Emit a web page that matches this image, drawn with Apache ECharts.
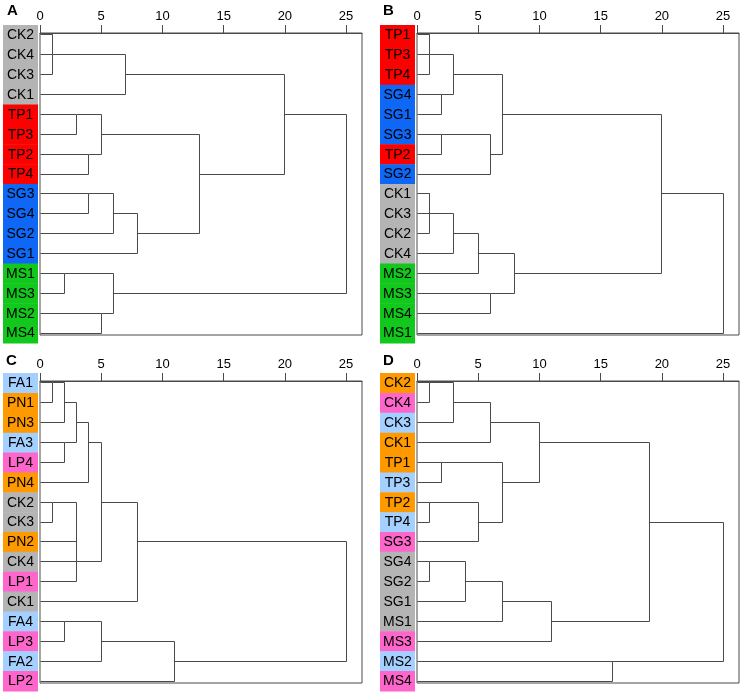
<!DOCTYPE html>
<html>
<head>
<meta charset="utf-8">
<script src="https://cdn.jsdelivr.net/npm/echarts@6/dist/echarts.min.js"></script>
<style>
html,body{margin:0;padding:0;background:#fff;}
#chart{width:743px;height:695px;}
</style>
</head>
<body>
<div id="chart"></div>
<script>
// ---------- data ----------
const tickValues = [0, 5, 10, 15, 20, 25];
const axisMax = 26.3;

const labelsA = ['CK2','CK4','CK3','CK1','TP1','TP3','TP2','TP4','SG3','SG4','SG2','SG1','MS1','MS3','MS2','MS4'];
const colorKeysA = ['gray','gray','gray','gray','red','red','red','red','blue','blue','blue','blue','green','green','green','green'];
// [child a, child b, rescaled distance]; leaves are 0..15, merged nodes numbered 16.. in order
const mergesA = [[0,1,1],[16,2,1],[17,3,7],[4,5,3],[6,7,4],[19,20,5],[8,9,4],[22,10,6],[23,11,8],[21,24,13],[18,25,20],[12,13,2],[14,15,5],[27,28,6],[26,29,25]];

const labelsB = ['TP1','TP3','TP4','SG4','SG1','SG3','TP2','SG2','CK1','CK3','CK2','CK4','MS2','MS3','MS4','MS1'];
const colorKeysB = ['red','red','red','blue','blue','blue','red','blue','gray','gray','gray','gray','green','green','green','green'];
const mergesB = [[0,1,1],[16,2,1],[3,4,2],[17,18,3],[5,6,2],[20,7,6],[19,21,7],[8,9,1],[23,10,1],[24,11,3],[25,12,5],[13,14,6],[26,27,8],[22,28,20],[29,15,25]];

const labelsC = ['FA1','PN1','PN3','FA3','LP4','PN4','CK2','CK3','PN2','CK4','LP1','CK1','FA4','LP3','FA2','LP2'];
const colorKeysC = ['lightblue','orange','orange','lightblue','pink','orange','gray','gray','orange','gray','pink','gray','lightblue','pink','lightblue','pink'];
const mergesC = [[0,1,1],[16,2,2],[3,4,2],[17,18,3],[19,5,4],[6,7,1],[21,8,3],[22,9,3],[23,10,3],[20,24,5],[25,11,8],[12,13,2],[27,14,5],[28,15,11],[26,29,25]];

const labelsD = ['CK2','CK4','CK3','CK1','TP1','TP3','TP2','TP4','SG3','SG4','SG2','SG1','MS1','MS3','MS2','MS4'];
const colorKeysD = ['orange','pink','lightblue','orange','orange','lightblue','orange','lightblue','pink','gray','gray','gray','gray','pink','lightblue','pink'];
const mergesD = [[0,1,1],[16,2,3],[17,3,6],[4,5,2],[6,7,1],[20,8,5],[19,21,7],[18,22,10],[9,10,1],[24,11,4],[25,12,7],[26,13,11],[23,27,19],[14,15,16],[28,29,25]];

const panelLetters = ['A','B','C','D'];

// ---------- styling ----------
const palette = {
  gray:'#b4b4b4', red:'#ff0000', blue:'#0f68f5', green:'#12c81c',
  orange:'#ff9900', pink:'#ff66cc', lightblue:'#a3d0ff'
};
const lineColor = '#4a4a4a';
const FONT = '"Liberation Sans", Arial, Helvetica, sans-serif';

const panels = [
  {labels:labelsA, keys:colorKeysA, merges:mergesA, left:40,  top:33,  letterX:7,   letterY:3},
  {labels:labelsB, keys:colorKeysB, merges:mergesB, left:417, top:33,  letterX:383, letterY:3},
  {labels:labelsC, keys:colorKeysC, merges:mergesC, left:40,  top:381, letterX:6,   letterY:353},
  {labels:labelsD, keys:colorKeysD, merges:mergesD, left:417, top:381, letterX:383, letterY:353}
];
const gridW = 322, gridH = 302;

// Build dendrogram segments (SPSS style: node row = floor of mean of child rows)
function buildSegments(merges, n) {
  const row = [], hgt = [];
  for (let i = 0; i < n; i++) { row[i] = i; hgt[i] = 0; }
  const segs = [];
  merges.forEach((m, k) => {
    const a = m[0], b = m[1], h = m[2], id = n + k;
    segs.push([hgt[a], row[a], h, row[a]]);
    segs.push([hgt[b], row[b], h, row[b]]);
    segs.push([h, row[a], h, row[b]]);
    row[id] = Math.floor((row[a] + row[b]) / 2);
    hgt[id] = h;
  });
  return segs.filter(s => !(s[0] === s[2] && s[1] === s[3]));
}

const snap = v => Math.round(v - 0.5) + 0.5;

function renderSeg(params, api) {
  const p1 = api.coord([api.value(0), api.value(1)]);
  const p2 = api.coord([api.value(2), api.value(3)]);
  return {
    type: 'line',
    shape: {x1: snap(p1[0]), y1: snap(p1[1]), x2: snap(p2[0]), y2: snap(p2[1])},
    style: {stroke: lineColor, lineWidth: 1}
  };
}

function makeCellRenderer(labels, keys) {
  return function (params, api) {
    const i = params.dataIndex;
    const t = api.coord([0, i - 0.5]);
    const b = api.coord([0, i + 0.5]);
    const x0 = t[0] - 37;
    return {
      type: 'group',
      children: [
        {type: 'rect', shape: {x: x0, y: t[1], width: 35, height: b[1] - t[1] + 0.5},
         style: {fill: palette[keys[i]]}},
        {type: 'text', style: {text: labels[i], x: x0 + 17.5, y: (t[1] + b[1]) / 2 + 0.5,
          align: 'center', verticalAlign: 'middle', fill: '#000', font: '14px ' + FONT}}
      ]
    };
  };
}

const grid = [], xAxis = [], yAxis = [], series = [], title = [];
panels.forEach((p, gi) => {
  grid.push({left: p.left, top: p.top, width: gridW, height: gridH, show: true,
    borderColor: lineColor, borderWidth: 1, backgroundColor: 'transparent'});
  xAxis.push({
    gridIndex: gi, type: 'value', position: 'top', min: 0, max: axisMax, interval: 5,
    axisLine: {show: true, onZero: false, lineStyle: {color: lineColor, width: 1}},
    axisTick: {show: true, inside: false, length: 8, customValues: tickValues,
      lineStyle: {color: lineColor, width: 1}},
    axisLabel: {show: true, customValues: tickValues, margin: 10, color: '#000',
      fontSize: 13, fontFamily: FONT},
    splitLine: {show: false}
  });
  yAxis.push({gridIndex: gi, type: 'value', inverse: true, min: -0.1, max: 15.1, show: false});
  const segs = buildSegments(p.merges, p.labels.length);
  series.push({
    type: 'custom', xAxisIndex: gi, yAxisIndex: gi, clip: false, silent: true,
    renderItem: renderSeg, encode: {x: [0, 2], y: [1, 3]}, data: segs, animation: false
  });
  series.push({
    type: 'custom', xAxisIndex: gi, yAxisIndex: gi, clip: false, silent: true, z: 3,
    renderItem: makeCellRenderer(p.labels, p.keys), encode: {x: 0, y: 1},
    data: p.labels.map((l, i) => [0, i]), animation: false
  });
  title.push({text: panelLetters[gi], left: p.letterX, top: p.letterY, padding: 0,
    textStyle: {fontSize: 15, fontWeight: 'bold', fontFamily: FONT, color: '#000'}});
});

const chart = echarts.init(document.getElementById('chart'), null, {renderer: 'canvas'});
chart.setOption({
  animation: false,
  backgroundColor: '#fff',
  title: title,
  grid: grid,
  xAxis: xAxis,
  yAxis: yAxis,
  series: series
});
</script>
</body>
</html>
